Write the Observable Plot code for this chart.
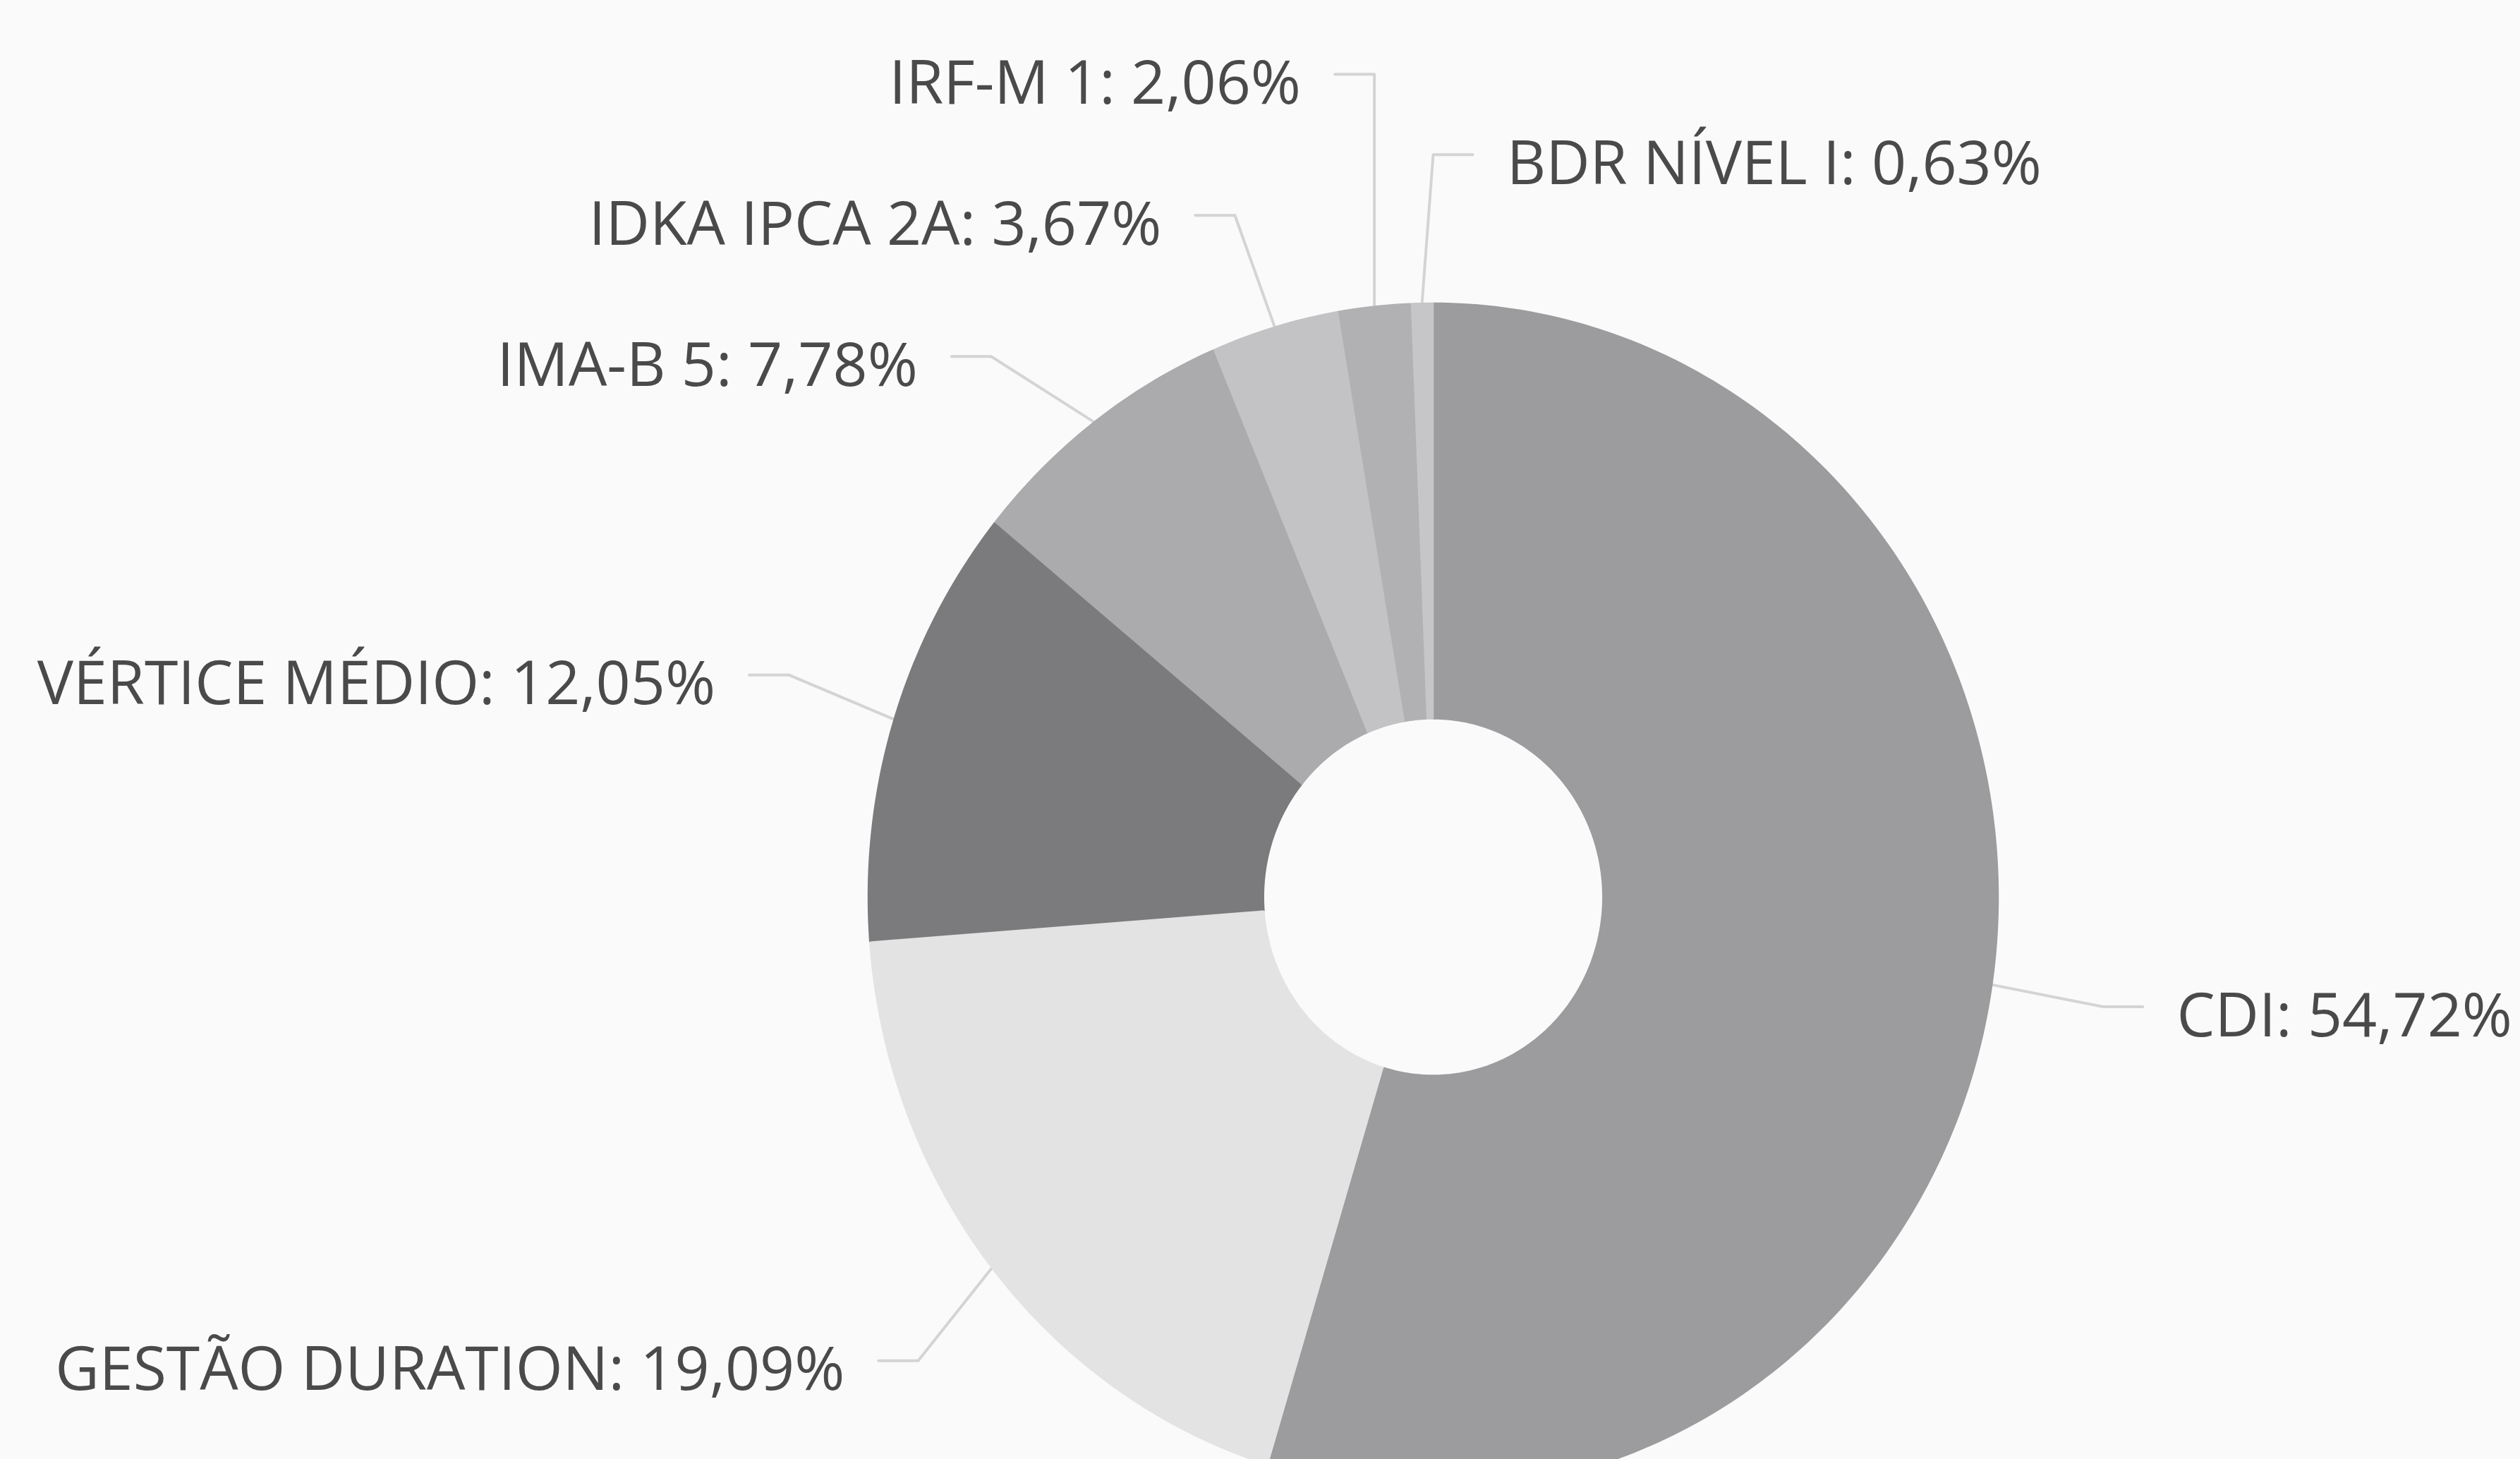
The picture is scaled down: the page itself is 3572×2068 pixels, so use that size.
<!DOCTYPE html>
<html>
<head>
<meta charset="utf-8">
<script src="https://cdn.jsdelivr.net/npm/d3@7"></script>
<script src="https://cdn.jsdelivr.net/npm/@observablehq/plot@0.6"></script>
<style>
  html, body { margin: 0; padding: 0; background: #fafafa; overflow: hidden; }
  #chart svg { display: block; }
</style>
</head>
<body>
<div id="chart"></div>
<script>
// ---- data ----
const categories = ["CDI", "GESTÃO DURATION", "VÉRTICE MÉDIO", "IMA-B 5", "IDKA IPCA 2A", "IRF-M 1", "BDR NÍVEL I"];
const values = [54.72, 19.09, 12.05, 7.78, 3.67, 2.06, 0.63];
const valueLabels = ["54,72%", "19,09%", "12,05%", "7,78%", "3,67%", "2,06%", "0,63%"];
const sliceColors = ["#9c9c9e", "#e3e3e3", "#7b7b7d", "#ababad", "#c3c3c5", "#b1b1b3", "#c6c6c8"];

// ---- layout ----
const W = 3572, H = 2068;
const cx = 2031, cy = 1271, Rx = 801, Ry = 842;   // donut centre and radii in px
const innerFrac = 0.30;
const labelRadius = 1.25;      // initial label radius (data units)
const bendRadius = 1.2;        // connector bend radius
const labelGapPx = 200;        // min vertical spacing between labels
const hSeg = 0.07, textPad = 0.06;

const arcs = d3.pie().sort(null).value(d => d)(values);

// slice polygons
const slicePts = [];
arcs.forEach((a, i) => {
  const n = Math.max(4, Math.ceil((a.endAngle - a.startAngle) / (2 * Math.PI) * 400));
  for (let k = 0; k <= n; k++) {
    const t = a.startAngle + (a.endAngle - a.startAngle) * k / n;
    slicePts.push({slice: categories[i], x: Math.sin(t), y: Math.cos(t)});
  }
  for (let k = n; k >= 0; k--) {
    const t = a.startAngle + (a.endAngle - a.startAngle) * k / n;
    slicePts.push({slice: categories[i], x: innerFrac * Math.sin(t), y: innerFrac * Math.cos(t)});
  }
});

// labels
const labels = arcs.map((a, i) => {
  const th = (a.startAngle + a.endAngle) / 2;
  const ex = Math.sin(th), ey = Math.cos(th);
  const side = ex >= -0.03 ? 1 : -1;
  return {i, name: categories[i], text: categories[i] + ": " + valueLabels[i], ex, ey, side, y0: labelRadius * ey};
});

function spread(items, gap) {
  items.sort((a, b) => b.y0 - a.y0);
  let clusters = items.map(d => ({items: [d], mean: d.y0}));
  let changed = true;
  while (changed) {
    changed = false;
    for (let k = 0; k < clusters.length - 1; k++) {
      const a = clusters[k], b = clusters[k + 1];
      const aLow = a.mean - gap * (a.items.length - 1) / 2;
      const bHigh = b.mean + gap * (b.items.length - 1) / 2;
      if (aLow - bHigh < gap) {
        const its = a.items.concat(b.items);
        clusters.splice(k, 2, {items: its, mean: d3.mean(its, d => d.y0)});
        changed = true;
        break;
      }
    }
  }
  clusters.forEach(c => c.items.forEach((d, j) => { d.y = c.mean + gap * ((c.items.length - 1) / 2 - j); }));
}
const gap = labelGapPx / Ry;
spread(labels.filter(d => d.side < 0), gap);
spread(labels.filter(d => d.side > 0), gap);

const connPts = [];
labels.forEach(d => {
  const s = Math.sqrt(Math.max(bendRadius * bendRadius - d.y * d.y, 0));
  const bx = d.side > 0 ? Math.max(s, d.ex) : Math.min(-s, d.ex);
  const endX = bx + d.side * hSeg;
  d.tx = endX + d.side * textPad;
  connPts.push({id: d.name, x: d.ex, y: d.ey});
  connPts.push({id: d.name, x: bx, y: d.y});
  connPts.push({id: d.name, x: endX, y: d.y});
});

const textStyle = {x: "tx", y: "y", text: "text", dy: 14, fontSize: 86, fill: "#4a4a4a", fontFamily: "'Open Sans', sans-serif"};

const chart = Plot.plot({
  width: W,
  height: H,
  margin: 0,
  style: {background: "transparent", fontFamily: "'Open Sans', sans-serif"},
  x: {domain: [-1, 1], range: [cx - Rx, cx + Rx], axis: null},
  y: {domain: [-1, 1], range: [cy + Ry, cy - Ry], axis: null},
  color: {domain: categories, range: sliceColors},
  marks: [
    Plot.line(connPts, {x: "x", y: "y", z: "id", stroke: "#d4d4d4", strokeWidth: 4, strokeLinejoin: "round"}),
    Plot.line(slicePts, {x: "x", y: "y", z: "slice", fill: "slice", stroke: "slice", strokeWidth: 1.5}),
    Plot.text(labels.filter(d => d.side < 0), {...textStyle, textAnchor: "end"}),
    Plot.text(labels.filter(d => d.side > 0), {...textStyle, textAnchor: "start"})
  ]
});
document.getElementById("chart").appendChild(chart);
</script>
</body>
</html>
